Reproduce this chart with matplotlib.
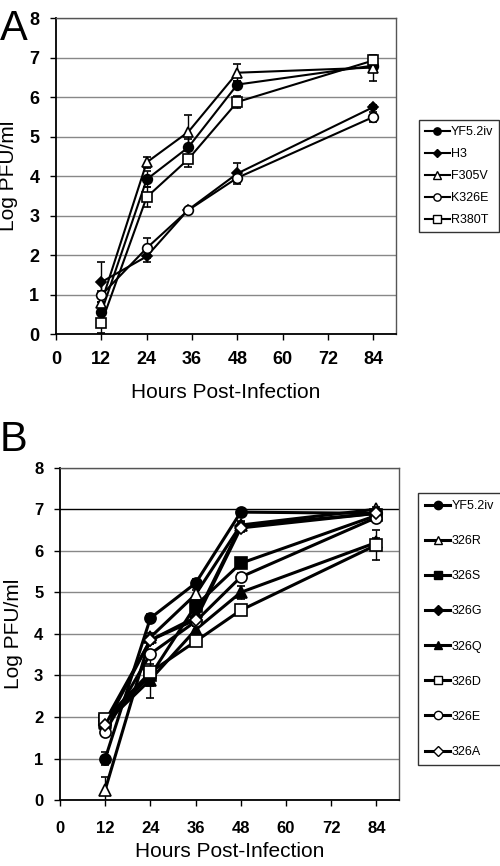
import matplotlib.pyplot as plt
from matplotlib.lines import Line2D

plt.rcParams['font.family'] = ['Liberation Sans', 'DejaVu Sans']

# Panel A data
hours_a = [12, 24, 35, 48, 84]
labels_a = ['YF5.2iv', 'H3', 'F305V', 'K326E', 'R380T']
values_a = {
    'YF5.2iv': [0.56, 3.92, 4.73, 6.32, 6.80],
    'H3': [1.32, 1.97, 3.15, 4.07, 5.75],
    'F305V': [0.80, 4.35, 5.12, 6.62, 6.75],
    'K326E': [0.99, 2.18, 3.14, 3.96, 5.50],
    'R380T': [0.28, 3.47, 4.43, 5.88, 6.93],
}
errors_a = {
    'YF5.2iv': [0.25, 0.20, 0.20, 0.10, 0.10],
    'H3': [0.50, 0.15, 0.05, 0.27, 0.05],
    'F305V': [0.30, 0.13, 0.43, 0.22, 0.33],
    'K326E': [0.30, 0.26, 0.05, 0.10, 0.12],
    'R380T': [0.25, 0.25, 0.20, 0.15, 0.10],
}

# Panel B data
hours_b = [12, 24, 36, 48, 84]
labels_b = ['YF5.2iv', '326R', '326S', '326G', '326Q', '326D', '326E', '326A']
values_b = {
    'YF5.2iv': [1.00, 4.38, 5.22, 6.93, 6.90],
    '326R': [0.25, 3.92, 4.95, 6.62, 7.00],
    '326S': [1.90, 3.00, 4.68, 5.70, 6.85],
    '326G': [1.90, 3.85, 4.40, 6.60, 6.90],
    '326Q': [1.85, 2.90, 4.10, 5.00, 6.20],
    '326D': [1.95, 3.08, 3.82, 4.57, 6.14],
    '326E': [1.65, 3.52, 4.30, 5.37, 6.80],
    '326A': [1.80, 3.85, 4.34, 6.55, 6.90],
}
errors_b = {
    'YF5.2iv': [0.15, 0.10, 0.10, 0.08, 0.05],
    '326R': [0.30, 0.10, 0.10, 0.10, 0.05],
    '326S': [0.10, 0.55, 0.15, 0.10, 0.05],
    '326G': [0.10, 0.10, 0.10, 0.10, 0.05],
    '326Q': [0.10, 0.15, 0.10, 0.15, 0.10],
    '326D': [0.10, 0.20, 0.10, 0.10, 0.35],
    '326E': [0.10, 0.10, 0.10, 0.10, 0.05],
    '326A': [0.10, 0.10, 0.10, 0.10, 0.05],
}

styles = {
    'YF5.2iv': ('o', 'black'),
    'H3': ('D', 'black'),
    'F305V': ('^', 'white'),
    'K326E': ('o', 'white'),
    'R380T': ('s', 'white'),
    '326R': ('^', 'white'),
    '326S': ('s', 'black'),
    '326G': ('D', 'black'),
    '326Q': ('^', 'black'),
    '326D': ('s', 'white'),
    '326E': ('o', 'white'),
    '326A': ('D', 'white'),
}


def draw_panel(ax, hours, labels, values, errors, lw, ms, tick_size):
    handles = []
    for name in labels:
        marker, face = styles[name]
        size = ms * 0.8 if marker == 'D' else ms
        ax.errorbar(hours, values[name], yerr=errors[name], color='black',
                    lw=lw, marker=marker, mfc=face, mec='black', mew=1.2,
                    ms=size, capsize=3, elinewidth=1.0, capthick=1.0,
                    zorder=3)
        handles.append(Line2D([], [], color='black', lw=lw, marker=marker,
                              mfc=face, mec='black', mew=1.0, ms=size * 0.75,
                              label=name))
    ax.set_xlim(0, 90)
    ax.set_ylim(0, 8)
    ax.set_xticks(range(0, 85, 12))
    ax.set_yticks(range(0, 9))
    ax.yaxis.grid(True, color='#888888', lw=1.0)
    ax.set_axisbelow(True)
    for s in ['top', 'right']:
        ax.spines[s].set_color('#555555')
        ax.spines[s].set_linewidth(1.0)
    for s in ['left', 'bottom']:
        ax.spines[s].set_linewidth(1.3)
    ax.tick_params(direction='out', length=4, width=1, pad=8)
    for t in ax.get_xticklabels() + ax.get_yticklabels():
        t.set_fontweight('bold')
        t.set_fontsize(tick_size)
    ax.set_ylabel('Log PFU/ml', fontsize=15, labelpad=8)
    return handles


fig = plt.figure(figsize=(5, 8.66), dpi=100)

ax_a = fig.add_axes([0.112, 0.614, 0.68, 0.365])
h = draw_panel(ax_a, hours_a, labels_a, values_a, errors_a, 1.5, 7, 13)
ax_a.set_xlabel('Hours Post-Infection', fontsize=15, labelpad=11)
leg = ax_a.legend(handles=h, loc='upper left', bbox_to_anchor=(1.068, 0.677),
                  fontsize=9, frameon=True, fancybox=False, edgecolor='black',
                  handlelength=2.0, handletextpad=0.1, borderpad=0.45,
                  borderaxespad=0, labelspacing=0.8)
leg.get_frame().set_linewidth(1.0)
fig.text(0.0, 0.99, 'A', fontsize=30, va='top', ha='left')

ax_b = fig.add_axes([0.12, 0.076, 0.678, 0.384])
h = draw_panel(ax_b, hours_b, labels_b, values_b, errors_b, 2.2, 8, 12)
ax_b.tick_params(axis='x', pad=11)
ax_b.yaxis.get_gridlines()[7].set_color('black')
ax_b.set_xlabel('Hours Post-Infection', fontsize=15, labelpad=4)
leg = ax_b.legend(handles=h, loc='upper left', bbox_to_anchor=(1.056, 0.925),
                  fontsize=9, frameon=True, fancybox=False, edgecolor='black',
                  handlelength=2.0, handletextpad=0.1, borderpad=0.6,
                  borderaxespad=0, labelspacing=1.85)
leg.get_frame().set_linewidth(1.0)
fig.text(0.0, 0.515, 'B', fontsize=30, va='top', ha='left')

fig.savefig('out.png', dpi=100)
